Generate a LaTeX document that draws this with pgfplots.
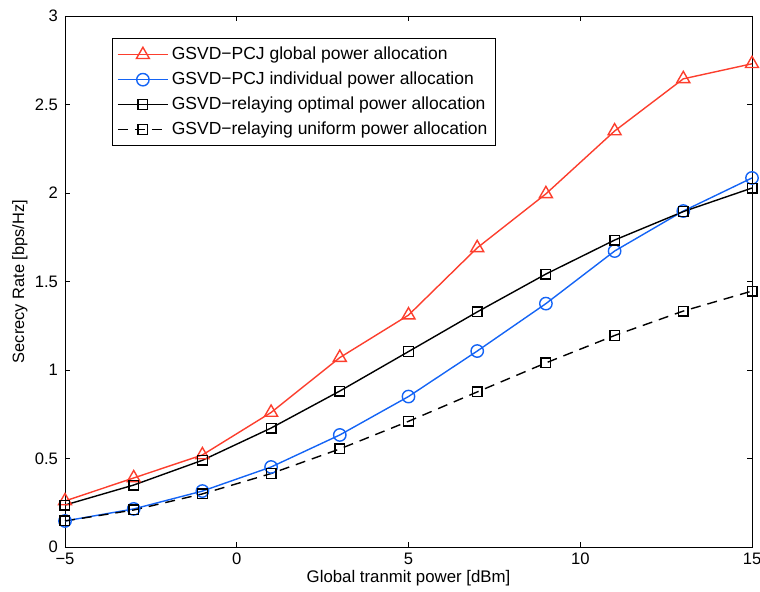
\documentclass[border=0pt]{standalone}
\usepackage{pgfplots}
\pgfplotsset{compat=1.18}
\usepackage{fontspec}
\setmainfont{Liberation Sans}
\definecolor{cred}{RGB}{252,62,45}
\definecolor{cblue}{RGB}{20,100,245}
\begin{document}
\begin{tikzpicture}
\begin{axis}[
  scale only axis, width=343.5pt, height=265.5pt,
  xmin=-5, xmax=15, ymin=0, ymax=3,
  xtick={-5,0,5,10,15}, ytick={0,0.5,1,1.5,2,2.5,3},
  yticklabels={0,0.5,1,1.5,2,2.5,3},
  xticklabels={−5,0,5,10,15},
  /pgf/number format/assume math mode=true,
  tick label style={font=\fontsize{8.3}{9}\selectfont},
  xticklabel style={yshift=0.5pt},
  major tick length=2.5pt,
  tick style={black, line width=0.45pt},
  axis line style={line width=0.45pt},
  xlabel={Global tranmit power [dBm]},
  ylabel={Secrecy Rate [bps/Hz]},
  xlabel style={font=\fontsize{8.4}{9}\selectfont, anchor=center, at={(axis description cs:0.5,-0.058)}},
  ylabel style={font=\fontsize{8.2}{9}\selectfont, anchor=center, at={(axis description cs:-0.0655,0.5)}},
  legend style={at={(0.068,0.958)}, anchor=north west, font=\fontsize{8.75}{11}\selectfont, draw=black, line width=0.45pt, inner sep=2.5pt, row sep=1.4pt,
    nodes={inner sep=1.6pt}},
  legend cell align=left,
  legend image code/.code={\draw[mark repeat=2,mark phase=2] plot coordinates {(0cm,0cm) (0.44cm,0cm) (0.88cm,0cm)};},
  every axis plot/.append style={line width=0.7pt},
]
\addplot[cred, mark=triangle, mark size=3.75pt, mark options={solid}] coordinates {
(-5,0.26) (-3,0.39) (-1,0.52) (1,0.76) (3,1.07) (5,1.31) (7,1.69) (9,1.995) (11,2.35) (13,2.645) (15,2.73)};
\addlegendentry{GSVD−PCJ global power allocation}
\addplot[cblue, mark=o, mark size=3.1pt, mark options={solid}] coordinates {
(-5,0.147) (-3,0.215) (-1,0.316) (1,0.452) (3,0.633) (5,0.85) (7,1.107) (9,1.375) (11,1.672) (13,1.898) (15,2.085)};
\addlegendentry{GSVD−PCJ individual power allocation}
\addplot[black, mark=square, mark size=2.4pt, mark options={solid}] coordinates {
(-5,0.237) (-3,0.350) (-1,0.49) (1,0.672) (3,0.881) (5,1.104) (7,1.328) (9,1.542) (11,1.734) (13,1.895) (15,2.028)};
\addlegendentry{GSVD−relaying optimal power allocation}
\addplot[black, dash pattern=on 5pt off 3.5pt, mark=square, mark size=2.4pt, mark options={solid}] coordinates {
(-5,0.147) (-3,0.209) (-1,0.30) (1,0.415) (3,0.554) (5,0.71) (7,0.876) (9,1.04) (11,1.195) (13,1.333) (15,1.446)};
\addlegendentry{GSVD−relaying uniform power allocation}
\end{axis}
\pgfresetboundingbox
\path[use as bounding box] ([shift={(-32.5pt,-22.5pt)}]current axis.south west) rectangle ([shift={(4pt,8pt)}]current axis.north east);
\end{tikzpicture}
\end{document}
